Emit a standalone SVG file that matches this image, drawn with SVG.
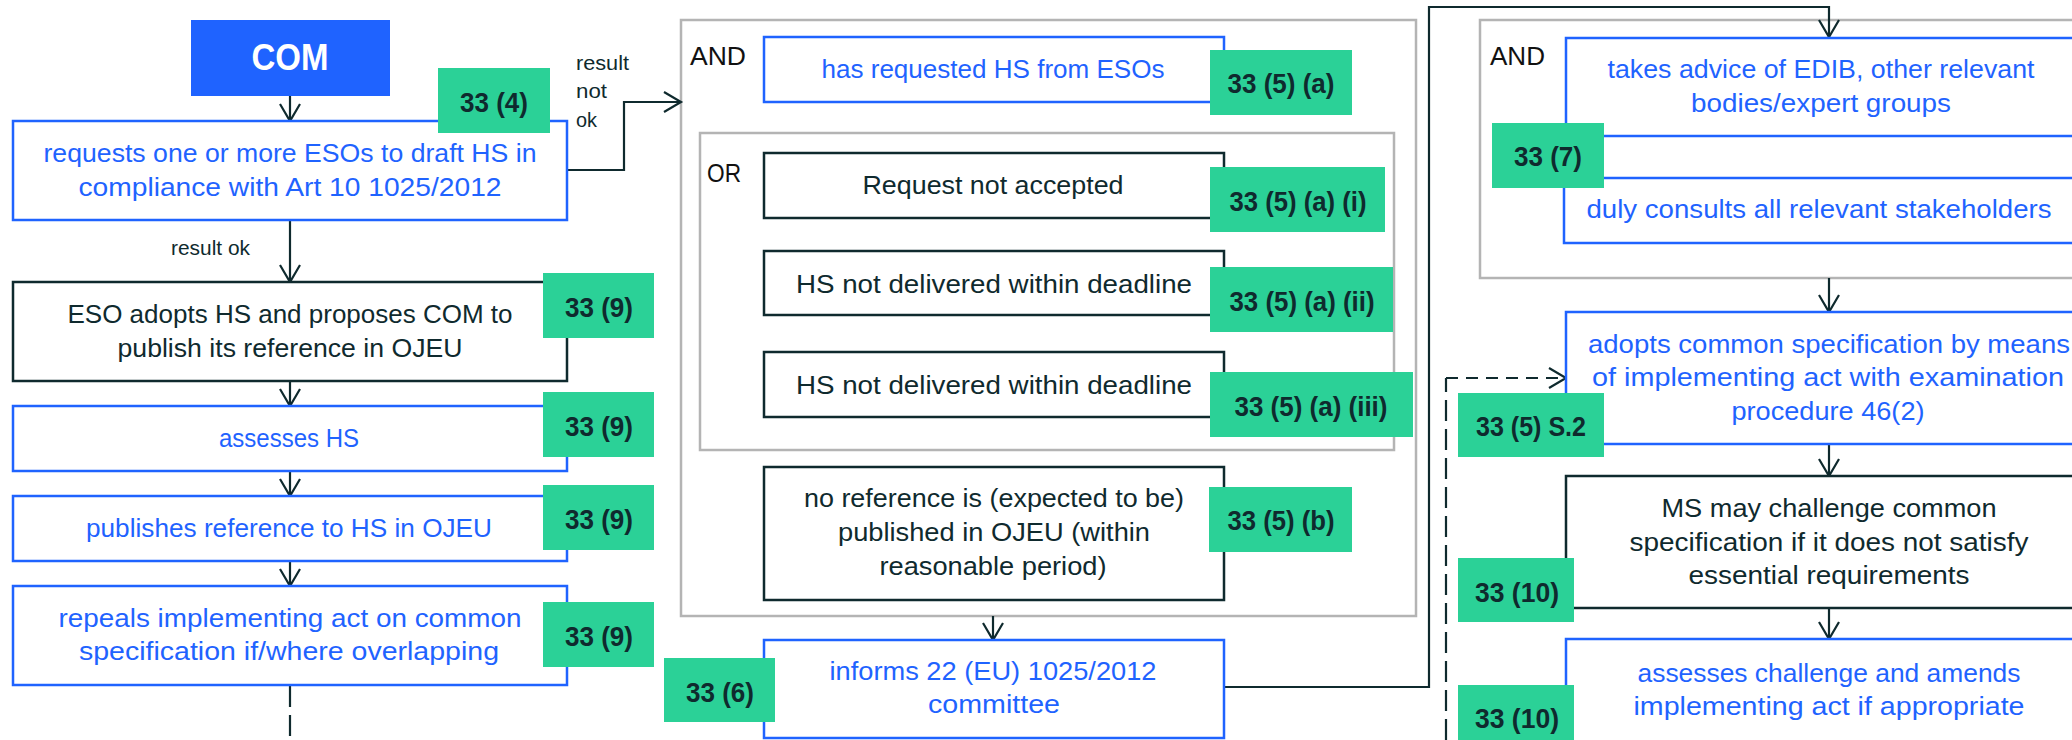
<svg xmlns="http://www.w3.org/2000/svg" width="2072" height="740" viewBox="0 0 2072 740">
<style>
.b{fill:#fff;stroke:#1f63ff;stroke-width:2.5}
.d{fill:#fff;stroke:#0f2a2e;stroke-width:2.5}
.g{fill:#fff;stroke:#b4b4b4;stroke-width:2.5}
.tg{fill:#2bd197}
text{font-family:'Liberation Sans',Arial,sans-serif}
.bt{font-size:26px;fill:#1f63ff;text-anchor:middle}
.dt{font-size:26px;fill:#0f2a2e;text-anchor:middle}
.kt{font-size:26px;fill:#111}
.lab{font-size:20px;fill:#0f2a2e}
.tt{font-size:28px;font-weight:bold;fill:#0f2a2e;text-anchor:middle}
.ln{fill:none;stroke:#0f2a2e;stroke-width:2.2}
</style>
<defs>
<marker id="arr" markerUnits="userSpaceOnUse" markerWidth="24" markerHeight="24" viewBox="-20 -12 22 24" refX="0" refY="0" orient="auto">
<path d="M-17,-10 L0,0 L-17,10" fill="none" stroke="#0f2a2e" stroke-width="2.2"/>
</marker>
</defs>

<g id="and-group-left">
<rect class="g" x="681" y="20" width="735" height="596"/>
<text class="kt" x="690" y="65" textLength="56" lengthAdjust="spacingAndGlyphs">AND</text>
</g>
<g id="or-group">
<rect class="g" x="700" y="133" width="694" height="317"/>
<text class="kt" x="707" y="182" textLength="34" lengthAdjust="spacingAndGlyphs">OR</text>
</g>
<g id="and-group-right">
<rect class="g" x="1480" y="20" width="610" height="258"/>
<text class="kt" x="1490" y="65" textLength="55" lengthAdjust="spacingAndGlyphs">AND</text>
</g>

<g id="connectors">
<path class="ln" d="M290,96 V121" marker-end="url(#arr)"/>
<path class="ln" d="M290,220 V282" marker-end="url(#arr)"/>
<path class="ln" d="M290,381 V406" marker-end="url(#arr)"/>
<path class="ln" d="M290,471 V496" marker-end="url(#arr)"/>
<path class="ln" d="M290,561 V586" marker-end="url(#arr)"/>
<path class="ln" d="M290,686 V740" stroke-dasharray="21 8"/>
<path class="ln" d="M567,170 H624 V102 H681" marker-end="url(#arr)"/>
<path class="ln" d="M993,616 V640" marker-end="url(#arr)"/>
<path class="ln" d="M1224,687 H1429 V7 H1829 V37" marker-end="url(#arr)"/>
<path class="ln" d="M1829,278 V312" marker-end="url(#arr)"/>
<path class="ln" d="M1829,444 V476" marker-end="url(#arr)"/>
<path class="ln" d="M1829,608 V639" marker-end="url(#arr)"/>
<path class="ln" d="M1446,740 V378" stroke-dasharray="21 8"/>
<path class="ln" d="M1446,378 H1566" stroke-dasharray="12 8" marker-end="url(#arr)"/>
<text class="lab" x="576" y="70" textLength="53" lengthAdjust="spacingAndGlyphs">result</text>
<text class="lab" x="576" y="98" textLength="31" lengthAdjust="spacingAndGlyphs">not</text>
<text class="lab" x="576" y="127" textLength="21" lengthAdjust="spacingAndGlyphs">ok</text>
<text class="lab" x="171" y="255" textLength="79" lengthAdjust="spacingAndGlyphs">result ok</text>
</g>

<g id="com">
<rect x="191" y="20" width="199" height="76" fill="#1f63ff"/>
<text x="290" y="70" font-size="36" font-weight="bold" fill="#fff" text-anchor="middle" textLength="77" lengthAdjust="spacingAndGlyphs">COM</text>
</g>

<g id="requests">
<rect class="b" x="13" y="121" width="554" height="99"/>
<text class="bt" x="290" y="162" textLength="493" lengthAdjust="spacingAndGlyphs">requests one or more ESOs to draft HS in</text>
<text class="bt" x="290" y="196" textLength="423" lengthAdjust="spacingAndGlyphs">compliance with Art 10 1025/2012</text>
<rect class="tg" x="438" y="68" width="112" height="65"/>
<text class="tt" x="494" y="112" textLength="68" lengthAdjust="spacingAndGlyphs">33 (4)</text>
</g>

<g id="eso-adopts">
<rect class="d" x="13" y="282" width="554" height="99"/>
<text class="dt" x="290" y="323" textLength="445" lengthAdjust="spacingAndGlyphs">ESO adopts HS and proposes COM to</text>
<text class="dt" x="290" y="357" textLength="345" lengthAdjust="spacingAndGlyphs">publish its reference in OJEU</text>
<rect class="tg" x="543" y="273" width="111" height="65"/>
<text class="tt" x="599" y="317" textLength="68" lengthAdjust="spacingAndGlyphs">33 (9)</text>
</g>

<g id="assesses-hs">
<rect class="b" x="13" y="406" width="554" height="65"/>
<text class="bt" x="289" y="447" textLength="140" lengthAdjust="spacingAndGlyphs">assesses HS</text>
<rect class="tg" x="543" y="392" width="111" height="65"/>
<text class="tt" x="599" y="436" textLength="68" lengthAdjust="spacingAndGlyphs">33 (9)</text>
</g>

<g id="publishes">
<rect class="b" x="13" y="496" width="554" height="65"/>
<text class="bt" x="289" y="537" textLength="406" lengthAdjust="spacingAndGlyphs">publishes reference to HS in OJEU</text>
<rect class="tg" x="543" y="485" width="111" height="65"/>
<text class="tt" x="599" y="529" textLength="68" lengthAdjust="spacingAndGlyphs">33 (9)</text>
</g>

<g id="repeals">
<rect class="b" x="13" y="586" width="554" height="99"/>
<text class="bt" x="290" y="627" textLength="463" lengthAdjust="spacingAndGlyphs">repeals implementing act on common</text>
<text class="bt" x="289" y="660" textLength="420" lengthAdjust="spacingAndGlyphs">specification if/where overlapping</text>
<rect class="tg" x="543" y="602" width="111" height="65"/>
<text class="tt" x="599" y="646" textLength="68" lengthAdjust="spacingAndGlyphs">33 (9)</text>
</g>

<g id="has-requested">
<rect class="b" x="764" y="37" width="460" height="65"/>
<text class="bt" x="993" y="78" textLength="343" lengthAdjust="spacingAndGlyphs">has requested HS from ESOs</text>
<rect class="tg" x="1210" y="50" width="142" height="65"/>
<text class="tt" x="1281" y="93" textLength="107" lengthAdjust="spacingAndGlyphs">33 (5) (a)</text>
</g>

<g id="request-not-accepted">
<rect class="d" x="764" y="153" width="460" height="65"/>
<text class="dt" x="993" y="194" textLength="261" lengthAdjust="spacingAndGlyphs">Request not accepted</text>
<rect class="tg" x="1210" y="167" width="175" height="65"/>
<text class="tt" x="1298" y="211" textLength="137" lengthAdjust="spacingAndGlyphs">33 (5) (a) (i)</text>
</g>

<g id="not-delivered-ii">
<rect class="d" x="764" y="251" width="460" height="64"/>
<text class="dt" x="994" y="293" textLength="396" lengthAdjust="spacingAndGlyphs">HS not delivered within deadline</text>
<rect class="tg" x="1210" y="267" width="183" height="65"/>
<text class="tt" x="1302" y="311" textLength="145" lengthAdjust="spacingAndGlyphs">33 (5) (a) (ii)</text>
</g>

<g id="not-delivered-iii">
<rect class="d" x="764" y="352" width="460" height="65"/>
<text class="dt" x="994" y="394" textLength="396" lengthAdjust="spacingAndGlyphs">HS not delivered within deadline</text>
<rect class="tg" x="1210" y="372" width="203" height="65"/>
<text class="tt" x="1311" y="416" textLength="153" lengthAdjust="spacingAndGlyphs">33 (5) (a) (iii)</text>
</g>

<g id="no-reference">
<rect class="d" x="764" y="467" width="460" height="133"/>
<text class="dt" x="994" y="507" textLength="380" lengthAdjust="spacingAndGlyphs">no reference is (expected to be)</text>
<text class="dt" x="994" y="541" textLength="312" lengthAdjust="spacingAndGlyphs">published in OJEU (within</text>
<text class="dt" x="993" y="575" textLength="227" lengthAdjust="spacingAndGlyphs">reasonable period)</text>
<rect class="tg" x="1209" y="487" width="143" height="65"/>
<text class="tt" x="1281" y="530" textLength="107" lengthAdjust="spacingAndGlyphs">33 (5) (b)</text>
</g>

<g id="informs">
<rect class="b" x="764" y="640" width="460" height="98"/>
<text class="bt" x="993" y="680" textLength="327" lengthAdjust="spacingAndGlyphs">informs 22 (EU) 1025/2012</text>
<text class="bt" x="994" y="713" textLength="132" lengthAdjust="spacingAndGlyphs">committee</text>
<rect class="tg" x="664" y="658" width="111" height="64"/>
<text class="tt" x="720" y="702" textLength="68" lengthAdjust="spacingAndGlyphs">33 (6)</text>
</g>

<g id="takes-advice">
<rect class="b" x="1566" y="38" width="526" height="98"/>
<text class="bt" x="1821" y="78" textLength="427" lengthAdjust="spacingAndGlyphs">takes advice of EDIB, other relevant</text>
<text class="bt" x="1821" y="112" textLength="260" lengthAdjust="spacingAndGlyphs">bodies/expert groups</text>
</g>

<g id="duly-consults">
<rect class="b" x="1564" y="178" width="528" height="65"/>
<text class="bt" x="1819" y="218" textLength="465" lengthAdjust="spacingAndGlyphs">duly consults all relevant stakeholders</text>
<rect class="tg" x="1492" y="123" width="112" height="65"/>
<text class="tt" x="1548" y="166" textLength="68" lengthAdjust="spacingAndGlyphs">33 (7)</text>
</g>

<g id="adopts-common-spec">
<rect class="b" x="1566" y="312" width="526" height="132"/>
<text class="bt" x="1829" y="353" textLength="482" lengthAdjust="spacingAndGlyphs">adopts common specification by means</text>
<text class="bt" x="1828" y="386" textLength="472" lengthAdjust="spacingAndGlyphs">of implementing act with examination</text>
<text class="bt" x="1828" y="420" textLength="193" lengthAdjust="spacingAndGlyphs">procedure 46(2)</text>
<rect class="tg" x="1458" y="393" width="146" height="64"/>
<text class="tt" x="1531" y="436" textLength="110" lengthAdjust="spacingAndGlyphs">33 (5) S.2</text>
</g>

<g id="ms-challenge">
<rect class="d" x="1566" y="476" width="526" height="132"/>
<text class="dt" x="1829" y="517" textLength="335" lengthAdjust="spacingAndGlyphs">MS may challenge common</text>
<text class="dt" x="1829" y="551" textLength="399" lengthAdjust="spacingAndGlyphs">specification if it does not satisfy</text>
<text class="dt" x="1829" y="584" textLength="281" lengthAdjust="spacingAndGlyphs">essential requirements</text>
<rect class="tg" x="1458" y="558" width="116" height="64"/>
<text class="tt" x="1517" y="602" textLength="84" lengthAdjust="spacingAndGlyphs">33 (10)</text>
</g>

<g id="assesses-challenge">
<rect class="b" x="1566" y="639" width="526" height="110"/>
<text class="bt" x="1829" y="682" textLength="383" lengthAdjust="spacingAndGlyphs">assesses challenge and amends</text>
<text class="bt" x="1829" y="715" textLength="391" lengthAdjust="spacingAndGlyphs">implementing act if appropriate</text>
<rect class="tg" x="1458" y="685" width="116" height="65"/>
<text class="tt" x="1517" y="728" textLength="84" lengthAdjust="spacingAndGlyphs">33 (10)</text>
</g>
</svg>
